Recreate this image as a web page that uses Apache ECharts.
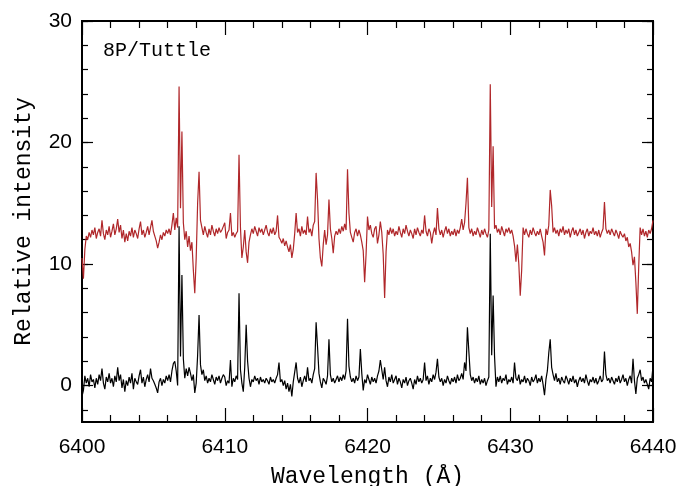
<!DOCTYPE html>
<html>
<head>
<meta charset="utf-8">
<script src="https://cdn.jsdelivr.net/npm/echarts@6/dist/echarts.min.js"></script>
<style>html,body{margin:0;padding:0;background:#fff}#c{width:676px;height:486px}</style>
</head>
<body>
<div id="c"></div>
<script>
// Wavelength sampling: first sample and step (Å)
var WAVE_START = 6400.0;
var WAVE_STEP = 0.1;

// Upper (red) spectrum, one row per Å
var redSpectrum = [
  10.5, 8.8, 11.2, 12.3, 12.0, 12.6, 12.2, 12.8, 12.4, 13.0,
  12.1, 12.6, 12.9, 12.3, 13.6, 12.5, 12.0, 12.8, 12.4, 13.1,
  12.2, 12.7, 13.3, 12.4, 12.9, 13.7, 12.6, 13.2, 12.1, 12.8,
  11.8, 12.5, 11.9, 12.7, 12.3, 13.0, 12.2, 12.8, 12.5, 12.1,
  12.9, 13.5, 12.4, 12.8, 12.2, 12.6, 13.1, 12.4, 13.0, 13.6,
  12.7, 12.3, 11.9, 11.3, 11.8, 12.4, 12.0, 12.6, 12.3, 12.8,
  12.5, 12.9, 12.4, 13.2, 14.2, 12.8, 13.8, 13.0, 24.6, 14.6,
  20.9, 13.4, 12.0, 12.7, 11.4, 12.3, 11.1, 11.8, 9.5, 7.6,
  10.5, 15.0, 17.6, 13.6, 13.0, 12.4, 13.1, 12.6, 12.2, 12.9,
  12.4, 13.2, 12.7, 12.3, 12.9, 12.5, 13.0, 12.6, 12.8, 13.1,
  13.4, 12.1, 12.6, 12.8, 14.2, 12.3, 12.6, 12.2, 12.5, 12.7,
  19.0, 13.0, 10.5, 11.4, 12.8, 11.0, 10.1, 11.8, 12.4, 12.9,
  12.5, 13.1, 12.7, 12.3, 13.0, 12.6, 12.9, 12.4, 12.8, 13.2,
  12.6, 12.3, 12.9, 12.5, 13.0, 12.4, 12.7, 14.0, 12.2, 12.0,
  11.7, 12.1, 11.5, 11.9, 11.4, 11.0, 11.6, 10.5, 11.2, 12.5,
  14.2, 12.6, 12.9, 12.3, 13.1, 12.5, 12.8, 12.4, 13.9, 12.6,
  12.9, 12.3, 13.2, 13.5, 17.5, 15.3, 12.1, 10.5, 9.8, 11.6,
  12.8, 11.6, 12.4, 15.3, 12.9, 12.1, 10.9, 12.3, 12.7, 12.4,
  12.9, 12.5, 13.1, 12.7, 13.3, 12.8, 17.8, 14.2, 12.6, 12.2,
  11.8, 12.6, 12.9, 12.3, 12.8, 12.4, 11.8, 11.1, 8.5, 10.8,
  13.9, 12.8, 13.2, 12.5, 12.2, 12.9, 13.1, 11.7, 12.4, 13.5,
  12.6, 10.8, 7.2, 11.0, 12.8, 12.4, 13.0, 12.5, 12.9, 12.3,
  12.7, 12.4, 13.1, 12.6, 12.2, 12.9, 12.5, 13.2, 12.7, 12.3,
  12.8, 12.5, 12.1, 12.9, 12.4, 13.0, 12.6, 12.3, 12.8, 12.5,
  14.0, 12.7, 12.3, 12.9, 12.6, 11.7, 12.5, 13.0, 12.4, 14.6,
  12.9, 12.4, 12.8, 12.2, 12.7, 13.1, 12.5, 12.9, 12.3, 12.7,
  12.4, 12.9, 12.3, 12.8, 12.5, 13.0, 13.7, 12.8, 13.4, 15.0,
  17.1, 13.0, 12.5, 12.9, 12.3, 12.7, 12.4, 13.0, 12.6, 12.2,
  12.8, 12.4, 12.9, 12.5, 12.2, 12.8, 24.8, 14.7, 19.7, 12.9,
  13.2, 12.6, 12.9, 12.4, 13.1, 12.7, 12.3, 12.9, 12.6, 13.0,
  12.5, 12.8, 12.3, 11.5, 10.2, 11.6, 10.0, 7.4, 9.5, 13.0,
  12.4, 12.9, 12.5, 12.2, 12.8, 12.4, 13.0, 12.6, 12.3, 12.7,
  12.4, 12.9, 12.3, 11.8, 10.7, 12.9, 12.4, 13.2, 16.1, 14.8,
  12.6, 13.0, 12.5, 12.8, 12.3, 12.9, 12.6, 13.1, 12.4, 12.8,
  12.5, 12.9, 12.2, 12.7, 13.0, 12.4, 12.8, 12.3, 12.6, 12.9,
  12.4, 12.8, 12.1, 12.6, 12.9, 12.3, 12.7, 12.5, 13.0, 12.4,
  12.7, 12.3, 12.8, 12.2, 12.6, 12.9, 15.1, 12.9, 12.5, 12.8,
  12.4, 12.9, 12.6, 12.3, 12.8, 12.5, 12.1, 12.7, 12.4, 12.2,
  12.5, 11.9, 12.2, 11.4, 11.7, 11.0, 9.9, 10.6, 8.5, 5.9,
  9.8, 13.0, 12.4, 12.9, 12.3, 12.7, 12.2, 12.8, 12.5, 12.9,
  13.6
];

// Lower (black) spectrum, one row per Å
var blackSpectrum = [
  -0.9, -0.4, 0.8, 0.2, 0.6, -0.1, 0.9, 0.3, 0.5, -0.2,
  0.6, 0.1, 0.9, 0.4, 1.4, 0.2, -0.3, 0.7, 0.3, 1.0,
  0.2, 0.6, -0.1, 0.8, 0.3, 1.5, 0.4, 0.9, -0.2, 0.5,
  -0.5, 0.4, 0.0, 0.7, 0.2, 1.0, -0.3, 0.6, 0.3, 0.1,
  0.8, 1.3, 0.2, 0.7, -0.1, 0.5, 0.9, 0.3, 1.4, 0.6,
  0.4, 0.1, -0.2, -0.6, 0.3, 0.6, 0.0, 0.5, 0.2, 0.8,
  0.4, 0.9, 0.3, 1.2, 1.8, 2.0, 1.2, 0.0, 13.1, 2.4,
  9.1, 2.2, 0.6, 1.4, 0.8, 1.5, 1.0, 0.4, 0.9, -0.6,
  0.2, 2.5, 5.8, 1.7, 0.9, 1.3, 0.4, 0.8, 0.2, 0.6,
  0.3, 0.9, 0.5, 0.1, 0.7, 0.4, 0.8, 0.2, 0.6, 0.9,
  0.7, 0.0, 0.4, 0.2, 2.1, -0.1, 0.6, 0.3, 0.8, 0.5,
  7.6, 1.3, 0.2, -0.5, 1.5, 5.0, 2.0, 0.6, -0.1, 0.5,
  0.3, 0.8, 0.4, 0.6, 0.1, 0.7, 0.3, 0.5, 0.2, 0.6,
  0.4, 0.1, 0.7, 0.3, 0.5, 0.2, 0.6, 0.9, 1.9, 0.3,
  0.5, 0.0, 0.4, -0.3, 0.2, -0.5, 0.1, -0.9, 0.3, 1.1,
  1.9, 0.6, 0.2, 0.7, -0.1, 0.4, 0.8, 0.3, 1.5, 0.4,
  0.6, 0.2, 0.9, 1.4, 5.2, 3.2, 1.0, 0.3, -0.2, 0.6,
  0.4, 0.1, 0.8, 3.8, 0.9, 0.3, 0.6, 0.2, 0.5, 0.8,
  0.3, 0.7, 0.4, 0.9, 0.5, 1.2, 5.5, 1.6, 0.7, 0.3,
  0.6, 0.2, 0.8, 0.4, 0.7, 3.0, 1.0, -0.4, 0.5, 0.2,
  0.9, 0.5, 0.1, 0.7, 0.3, 0.6, 0.2, 0.8, 1.2, 2.1,
  1.3, 0.5, 1.5, 0.4, -0.1, 0.7, 0.3, 0.9, 0.2, 0.5,
  0.8, 0.1, 0.6, 0.3, -0.2, 0.5, 0.2, 0.7, 0.0, 0.4,
  0.6, 0.2, -0.3, 0.5, 0.1, 0.8, 0.3, 0.6, 0.2, 0.5,
  1.9, 0.4, 0.8, 0.1, 0.6, 0.3, 0.9, 0.5, 1.1, 2.2,
  0.7, 0.3, 0.6, 0.0, 0.5, 0.2, 0.8, 0.4, 0.1, 0.6,
  0.3, 0.7, 0.2, 0.9, 0.4, 0.6, 1.0, 0.5, 1.9, 1.2,
  4.8, 2.8, 0.9, 0.4, 0.7, 0.2, 0.6, 0.3, 0.8, 0.1,
  0.5, 0.2, 0.6, 0.0, 0.4, 0.7, 12.5, 2.5, 7.4, 2.4,
  -0.1, 0.7, 0.3, 0.8, 0.2, 0.6, 0.4, 0.9, 0.1, 0.5,
  0.3, 0.7, 0.2, 1.9, 0.6, 0.4, 0.9, 0.1, 0.5, 0.3,
  0.8, 0.2, 0.6, 0.4, 0.0, 0.7, 0.3, 0.5, 0.9, 0.2,
  0.6, 0.3, 0.8, 0.1, -0.8, 0.5, 1.2, 2.7, 3.8, 1.5,
  0.9, 0.4, 1.0, 0.3, 0.6, 0.1, 0.7, 0.4, 0.2, 0.8,
  0.5, 0.1, 0.6, 0.3, 0.8, 0.2, 0.5, -0.1, 0.4, 0.7,
  0.3, 0.6, 0.2, 0.9, 0.4, 0.0, 0.5, 0.3, 0.7, 0.2,
  0.6, 0.1, 0.4, 0.8, 0.3, 0.5, 2.8, 0.9, 0.4, 0.6,
  0.2, 0.7, 0.4, 0.1, 0.6, 0.3, 0.8, 0.2, 0.5, 0.9,
  0.3, 0.6, 0.0, 0.5, 0.8, 0.2, 2.2, 0.4, -0.7, 0.6,
  0.9, 1.3, 0.4, 0.7, 0.2, 0.5, 0.1, -0.3, 0.6, 0.3,
  1.6
];

// Axis ticks and labels
var xRange = [6400, 6440];
var xMajorStep = 10;
var yRange = [-3, 30];
var yLabelValues = [0, 10, 20, 30];
var yMinorValues = [-2, 0, 2, 4, 6, 8, 10, 12, 14, 16, 18, 20, 22, 24, 26, 28, 30];

var titleText = '8P/Tuttle';
var xTitle = 'Wavelength (Å)';
var yTitle = 'Relative intensity';

function toPairs(arr) {
  return arr.map(function (v, i) {
    return [Math.round((WAVE_START + i * WAVE_STEP) * 10) / 10, v];
  });
}

var MONO = '"Liberation Mono", "DejaVu Sans Mono", monospace';
var SANS = '"Liberation Sans", Arial, sans-serif';
function plain(v) { return String(v); }

function xAxisDef(pos, showLabels) {
  return {
    type: 'value', position: pos, min: xRange[0], max: xRange[1], interval: xMajorStep,
    axisLine: { show: true, onZero: false, lineStyle: { color: '#000', width: 2 } },
    axisTick: { show: true, inside: true, length: 14, lineStyle: { color: '#000', width: 1.2 } },
    minorTick: { show: true, splitNumber: 5, length: 7, lineStyle: { color: '#000', width: 1.2 } },
    axisLabel: { show: showLabels, color: '#000', fontSize: 21, fontFamily: SANS, margin: 15, formatter: plain },
    splitLine: { show: false },
    name: showLabels ? xTitle : '', nameLocation: 'middle', nameGap: 43,
    nameTextStyle: { color: '#000', fontSize: 23, fontFamily: MONO }
  };
}

function yAxisDef(pos, showLabels, major) {
  return {
    type: 'value', position: pos, min: yRange[0], max: yRange[1],
    axisLine: { show: true, onZero: false, lineStyle: { color: '#000', width: 2 } },
    axisTick: { show: true, inside: true, length: major ? 11 : 6,
      customValues: major ? yLabelValues : yMinorValues,
      lineStyle: { color: '#000', width: 1.2 } },
    axisLabel: { show: showLabels, customValues: yLabelValues, color: '#000', fontSize: 21, fontFamily: SANS, margin: 10, formatter: plain },
    splitLine: { show: false },
    name: showLabels ? yTitle : '', nameLocation: 'middle', nameGap: 47,
    nameTextStyle: { color: '#000', fontSize: 23, fontFamily: MONO }
  };
}

var chart = echarts.init(document.getElementById('c'), null, { renderer: 'canvas' });
chart.setOption({
  animation: false,
  backgroundColor: '#fff',
  title: {
    text: titleText, left: 103, top: 41, padding: 0,
    textStyle: { color: '#000', fontSize: 20, fontWeight: 'normal', fontFamily: MONO }
  },
  grid: { left: 82, right: 23, top: 21, bottom: 64, containLabel: false, outerBoundsMode: 'none' },
  xAxis: [xAxisDef('bottom', true), xAxisDef('top', false)],
  yAxis: [yAxisDef('left', true, true), yAxisDef('left', false, false),
          yAxisDef('right', false, true), yAxisDef('right', false, false)],
  series: [
    { type: 'line', data: toPairs(redSpectrum), xAxisIndex: 0, yAxisIndex: 0,
      showSymbol: false, symbol: 'none', lineStyle: { color: '#B0272A', width: 1.2 }, z: 2 },
    { type: 'line', data: toPairs(blackSpectrum), xAxisIndex: 0, yAxisIndex: 0,
      showSymbol: false, symbol: 'none', lineStyle: { color: '#000', width: 1.2 }, z: 3 }
  ]
});
</script>
</body>
</html>
